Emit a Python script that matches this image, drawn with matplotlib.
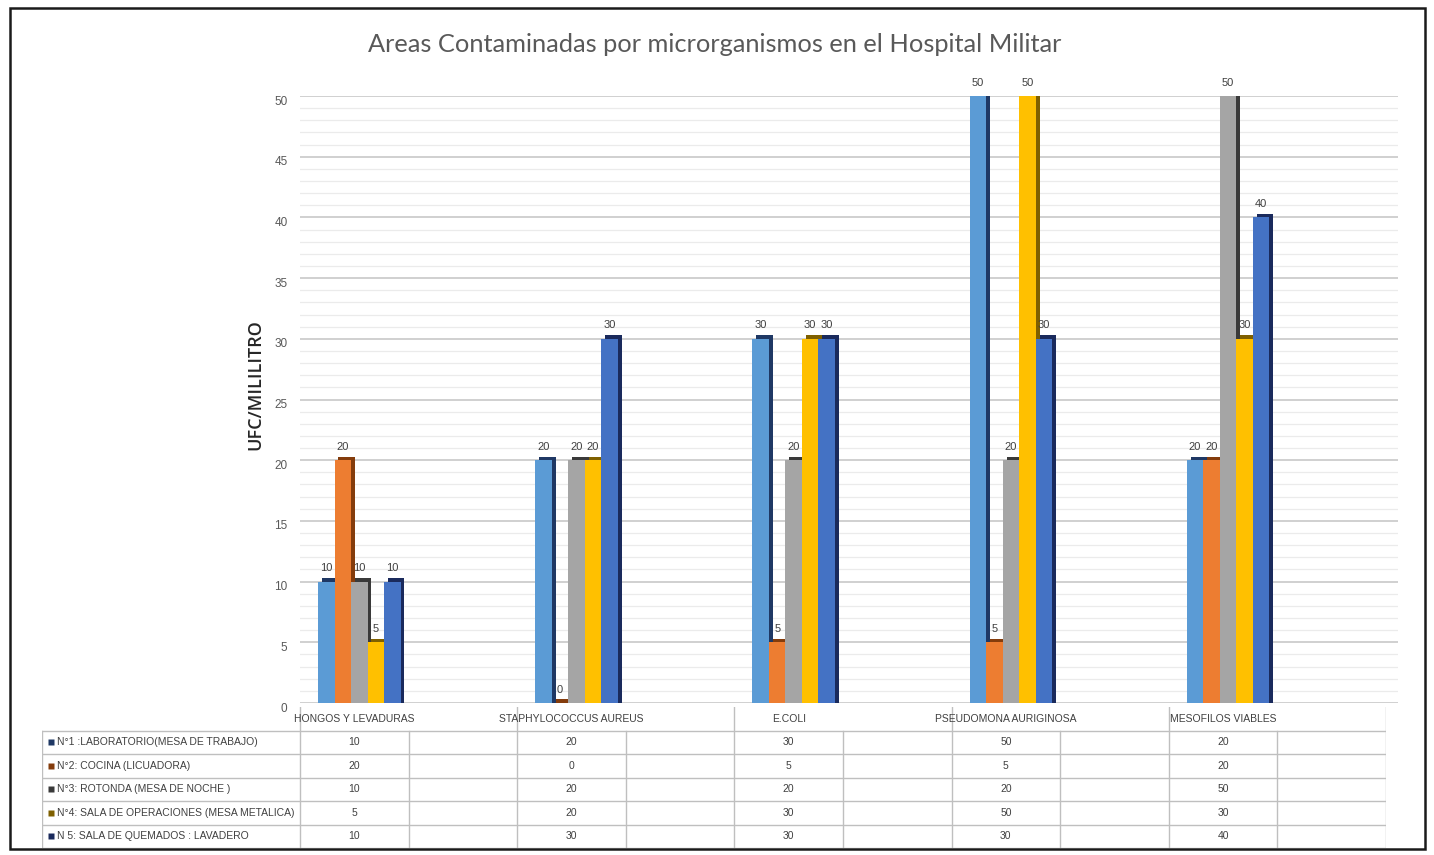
import matplotlib
matplotlib.use("Agg")
import matplotlib.pyplot as plt
import matplotlib.transforms as mtransforms
from matplotlib.patches import Rectangle
import numpy as np

categories = ["HONGOS Y LEVADURAS", "STAPHYLOCOCCUS AUREUS", "E.COLI",
              "PSEUDOMONA AURIGINOSA", "MESOFILOS VIABLES"]
series_names = ["N°1 :LABORATORIO(MESA DE TRABAJO)",
                "N°2: COCINA (LICUADORA)",
                "N°3: ROTONDA (MESA DE NOCHE )",
                "N°4: SALA DE OPERACIONES (MESA METALICA)",
                "N 5: SALA DE QUEMADOS : LAVADERO"]
lab_mesa = [10, 20, 30, 50, 20]
cocina = [20, 0, 5, 5, 20]
rotonda = [10, 20, 20, 20, 50]
sala_oper = [5, 20, 30, 50, 30]
sala_quem = [10, 30, 30, 30, 40]
series = [lab_mesa, cocina, rotonda, sala_oper, sala_quem]

front = ["#5B9BD5", "#ED7D31", "#A5A5A5", "#FFC000", "#4472C4"]
side = ["#1F3864", "#843C0C", "#3A3A3A", "#7F6000", "#1A2A5C"]

narrow = ["Liberation Sans Narrow", "Liberation Sans", "DejaVu Sans"]

W, H = 1434, 855
fig = plt.figure(figsize=(W / 100, H / 100), dpi=100)

# main plot area in pixels
L, R, T, B = 300, 1398, 96, 703
unit = 217.2
ax = fig.add_axes([L / W, 1 - B / H, (R - L) / W, (B - T) / H])
ax.set_xlim(-0.25, -0.25 + (R - L) / unit)
ax.set_ylim(0, 50)

x = np.arange(len(categories))
bw = 0.076
dx, dy = 0.018, 0.3
start = -bw * 2 + 0.023
for i, vals in enumerate(series):
    pos = x + start + i * bw
    vals = np.array(vals)
    ax.bar(pos + dx, vals + dy, width=bw, color=side[i], align="center", zorder=3 + i)
    ax.bar(pos, vals, width=bw, color=front[i], align="center", zorder=3 + i)
    for p, v in zip(pos, vals):
        ax.text(p, v + 0.7, str(v), ha="center", va="bottom", fontsize=8,
                color="#404040", family=narrow, zorder=20)

ax.set_yticks(np.arange(0, 51, 5))
ax.set_yticks(np.arange(0, 51, 1), minor=True)
ax.grid(True, axis="y", which="major", color="#D0D0D0", lw=1.4, zorder=0)
ax.grid(True, axis="y", which="minor", color="#EBEBEB", lw=0.9, zorder=0)
ax.tick_params(axis="y", which="both", length=0, labelsize=8.5, labelcolor="#595959", pad=9)
ax.set_xticks([])
for sp in ax.spines.values():
    sp.set_visible(False)
shift = mtransforms.ScaledTranslation(0, -4 / 100, fig.dpi_scale_trans)
for lab in ax.get_yticklabels():
    lab.set_family(narrow)
    lab.set_transform(lab.get_transform() + shift)
ax.set_ylabel("UFC/MILILITRO", fontsize=13, color="#262626", fontweight="semibold",
              family=["Open Sans", "DejaVu Sans"])
ax.yaxis.set_label_coords((264 - L) / (R - L), (B - 385) / (B - T))

fig.text(715 / W, 1 - 45 / H, "Areas Contaminadas por microrganismos en el Hospital Militar",
         ha="center", va="center", fontsize=18.3, color="#595959", family=["Lato", "DejaVu Sans"])

# data table
TL, TR, TT, TB = 42, 1386, 707, 848
tx = fig.add_axes([TL / W, 1 - TB / H, (TR - TL) / W, (TB - TT) / H])
xl = -0.25 - (300 - TL) / unit
xr = -0.25 + (TR - 300) / unit
tx.set_xlim(xl, xr)
tx.set_ylim(5, -1)
tx.axis("off")
gc = "#BFBFBF"
for r in range(6):
    tx.plot([xl, xr], [r, r], color=gc, lw=1)
tx.plot([xl, xl], [0, 5], color=gc, lw=1)
for k in range(11):
    xv = -0.25 + 0.5 * k
    top = -1 if k % 2 == 0 else 0
    tx.plot([xv, xv], [top, 5], color=gc, lw=1)
for j, c in enumerate(categories):
    tx.text(j, -0.5, c, ha="center", va="center", fontsize=7.5, color="#404040", family=narrow)
for i, (name, vals) in enumerate(zip(series_names, series)):
    tx.plot([xl + 0.04], [i + 0.5], marker="s", ms=4, color=side[i], mec="none")
    tx.text(xl + 0.07, i + 0.5, name, ha="left", va="center", fontsize=7.5,
            color="#404040", family=narrow)
    for j, v in enumerate(vals):
        tx.text(j, i + 0.5, str(v), ha="center", va="center", fontsize=7.5,
                color="#404040", family=narrow)

fig.add_artist(Rectangle((10 / W, 1 - 849 / H), 1415 / W, 841 / H, transform=fig.transFigure,
                         fill=False, ec="#1A1A1A", lw=1.8))

fig.savefig("out.png", dpi=100)
